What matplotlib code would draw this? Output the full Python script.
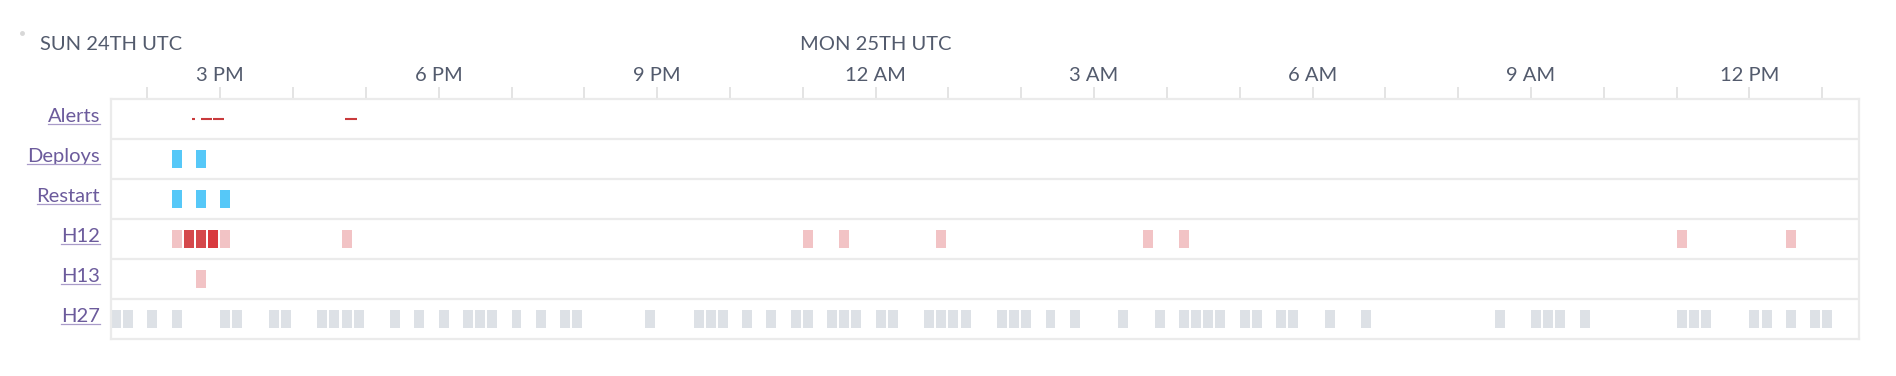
import datetime as dt
import matplotlib
matplotlib.use('Agg')
import matplotlib.pyplot as plt
import matplotlib.dates as mdates
from matplotlib.lines import Line2D
from matplotlib.ticker import FuncFormatter
from matplotlib.transforms import IdentityTransform, offset_copy, blended_transform_factory

# window shown: sun 24th 13:30 -> mon 25th 13:30 utc, 10 minute buckets
start = dt.datetime(2019, 11, 24, 13, 30)
end = dt.datetime(2019, 11, 25, 13, 30)

rows = ['Alerts', 'Deploys', 'Restart', 'H12', 'H13', 'H27']

alerts = [('14:37', '14:39'), ('14:44', '14:53'), ('14:54', '15:03'), ('16:43', '16:53')]
deploys = ['14:20', '14:40']
restarts = ['14:20', '14:40', '15:00']
h12_times = ['14:20', '14:30', '14:40', '14:50', '15:00', '16:40', '23:00', '23:30',
             '00:50', '03:40', '04:10', '11:00', '12:30']
h12_counts = [1, 4, 4, 5, 1, 1, 1, 1, 1, 1, 1, 1, 1]
h13_times = ['14:40']
h27_times = ['13:30', '13:40', '14:00', '14:20', '15:00', '15:10', '15:40', '15:50',
             '16:20', '16:30', '16:40', '16:50', '17:20', '17:40', '18:00', '18:20',
             '18:30', '18:40', '19:00', '19:20', '19:40', '19:50', '20:50', '21:30',
             '21:40', '21:50', '22:10', '22:30', '22:50', '23:00', '23:20', '23:30',
             '23:40', '00:00', '00:10', '00:40', '00:50', '01:00', '01:10', '01:40',
             '01:50', '02:00', '02:20', '02:40', '03:20', '03:50', '04:10', '04:20',
             '04:30', '04:40', '05:00', '05:10', '05:30', '05:40', '06:10', '06:40',
             '08:30', '09:00', '09:10', '09:20', '09:40', '11:00', '11:10', '11:20',
             '12:00', '12:10', '12:30', '12:50', '13:00']

txt = '#535b6d'
link = '#6c5b9c'
grid = '#ebebeb'
blue = '#56c8f8'
h12_shades = {1: '#f2c3c5', 4: '#d5484b', 5: '#d83a3f'}
grey = '#dde1e6'


def when(hhmm):
    h, m = map(int, hhmm.split(':'))
    d = start.replace(hour=h, minute=m)
    if d < start:
        d += dt.timedelta(days=1)
    return mdates.date2num(d)


plt.rcParams['font.family'] = ['Lato', 'DejaVu Sans']

fig = plt.figure(figsize=(18.96, 3.76), dpi=100)
ax = fig.add_axes([111/1896, 1-338.7/376, (1858.7-111)/1896, 240/376])

bw = 8.2/1440.0   # bar width in days
bh = 0.45


def blocks(row, times, colors):
    xs = [when(t) for t in times]
    ax.bar(xs, bh, width=bw, bottom=row+0.5-bh/2, align='edge', color=colors, linewidth=0)


for a, b in alerts:
    ax.hlines(0.5, when(a), when(b), colors='#c93a3c', linewidth=1.5, capstyle='butt')
blocks(1, deploys, blue)
blocks(2, restarts, blue)
blocks(3, h12_times, [h12_shades[c] for c in h12_counts])
blocks(4, h13_times, h12_shades[1])
blocks(5, h27_times, grey)

for k in range(1, len(rows)):
    ax.axhline(k, color=grid, lw=1.6, zorder=0)

ax.set_xlim(mdates.date2num(start), mdates.date2num(end))
ax.set_ylim(len(rows), 0)
ax.set_yticks([])
for s in ax.spines.values():
    s.set_color(grid)
    s.set_linewidth(1.6)

ax.xaxis.set_major_locator(mdates.HourLocator(byhour=range(0, 24, 3)))
ax.xaxis.set_minor_locator(mdates.HourLocator())
ax.xaxis.set_major_formatter(FuncFormatter(
    lambda v, p: mdates.num2date(v).strftime('%I %p').lstrip('0')))
ax.xaxis.tick_top()
ax.tick_params(axis='x', which='both', top=True, bottom=False, labeltop=True,
               labelbottom=False, length=8.6, width=1.4, color='#e4e4e4',
               labelcolor=txt, labelsize=14.5, pad=2)

# day headers
tr = blended_transform_factory(ax.transData, fig.transFigure)
ax.text(mdates.date2num(start), 1-50/376, 'SUN 24TH UTC', transform=tr, ha='center',
        va='baseline', fontsize=14.5, color=txt)
ax.text(mdates.date2num(dt.datetime(2019, 11, 25)), 1-50/376, 'MON 25TH UTC', transform=tr,
        ha='center', va='baseline', fontsize=14.5, color=txt)

fig.add_artist(Line2D([21.7/1896], [1-33.3/376], marker='o', ms=2.5, color='#d8d8d8',
                      lw=0, transform=fig.transFigure))

# row labels (links, underlined)
ltr = offset_copy(ax.get_yaxis_transform(), fig=fig, x=-11, y=-3.5, units='dots')
labels = []
for k, name in enumerate(rows):
    labels.append(ax.text(0, k+0.5, name, transform=ltr, ha='right', va='baseline',
                          fontsize=14.5, color=link))

fig.canvas.draw()
for t in labels:
    bb = t.get_window_extent()
    xa, yb = t.get_transform().transform(t.get_position())
    fig.add_artist(Line2D([bb.x0, bb.x1], [yb-1.8, yb-1.8], color='#a99bc9', lw=0.9,
                          transform=IdentityTransform()))

fig.savefig('out.png', dpi=100)
